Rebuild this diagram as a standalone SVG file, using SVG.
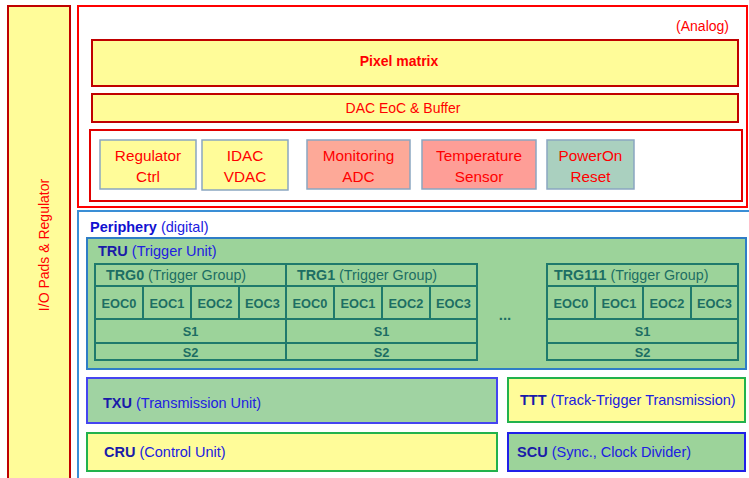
<svg xmlns="http://www.w3.org/2000/svg" width="749" height="478" viewBox="0 0 749 478">
<style>
text{font-family:"Liberation Sans","Noto Sans",Arial,sans-serif;}
.red{fill:#FF0000;font-size:14px;}
.sb{font-size:15.3px;}
.yel{fill:#FFFC99;}
.dred{stroke:#C00000;stroke-width:2;}
.sm{stroke:#8AA6C1;stroke-width:1.5;}
.c{text-anchor:middle;}
.teal{fill:#1D6E63;font-size:14.3px;}
.tealb{fill:#1D6E63;font-size:12.8px;font-weight:bold;}
.trg{fill:none;stroke:#1F7A6C;stroke-width:2;}
.blue{fill:#2020E0;font-size:14.5px;}
</style>
<rect width="749" height="478" fill="#FFFFFF"/>
<g id="io-pads">
<rect x="8" y="6" width="62" height="480" class="yel dred"/>
<text class="red c" transform="translate(49,245) rotate(-90)">I/O Pads &amp; Regulator</text>
</g>
<g id="analog">
<rect x="78" y="6" width="669" height="201" fill="#FFFFFF" stroke="#FF0000" stroke-width="2"/>
<text class="red" x="729" y="31" text-anchor="end" font-size="14.8">(Analog)</text>
</g>
<g id="pixel-matrix">
<rect x="92" y="40" width="646" height="46" class="yel dred"/>
<text class="red c" x="399" y="66" font-weight="bold">Pixel matrix</text>
</g>
<g id="dac-eoc">
<rect x="92" y="94" width="646" height="28" class="yel dred"/>
<text class="red c" x="403" y="113">DAC EoC &amp; Buffer</text>
</g>
<g id="analog-blocks">
<rect x="90" y="130" width="652" height="71" fill="#FFFFFF" stroke="#E00000" stroke-width="2"/>
</g>
<g id="regulator-ctrl">
<rect x="100" y="140" width="96" height="49" class="yel sm"/>
<text class="red c sb" x="148" y="161">Regulator</text>
<text class="red c sb" x="148" y="182">Ctrl</text>
</g>
<g id="idac-vdac">
<rect x="202" y="140" width="86" height="50" class="yel sm"/>
<text class="red c sb" x="245" y="161">IDAC</text>
<text class="red c sb" x="245" y="182">VDAC</text>
</g>
<g id="monitoring-adc">
<rect x="307" y="140" width="103" height="49" fill="#FDA998" class="sm"/>
<text class="red c sb" x="358.5" y="161">Monitoring</text>
<text class="red c sb" x="358.5" y="182">ADC</text>
</g>
<g id="temperature-sensor">
<rect x="422" y="140" width="114" height="49" fill="#FE9E97" class="sm"/>
<text class="red c sb" x="479" y="161">Temperature</text>
<text class="red c sb" x="479" y="182">Sensor</text>
</g>
<g id="poweron-reset">
<rect x="547" y="140" width="87" height="49" fill="#AAD0BF" class="sm"/>
<text class="red c sb" x="590.5" y="161">PowerOn</text>
<text class="red c sb" x="590.5" y="182">Reset</text>
</g>
<g id="periphery">
<rect x="78" y="211" width="674" height="275" fill="#FFFFFF" stroke="#3A8ED6" stroke-width="2"/>
<text class="blue" x="90" y="232" fill="#0000FF"><tspan font-weight="bold" fill="#1010D0">Periphery</tspan> (digital)</text>
</g>
<g id="tru">
<rect x="87" y="238" width="659" height="131" fill="#9CD39A" stroke="#2E7DC6" stroke-width="2"/>
<text class="blue" x="98" y="256"><tspan font-weight="bold" fill="#1A1AA8">TRU</tspan> (Trigger Unit)</text>
<text x="505" y="320" class="c" fill="#1D6E63" font-size="15" font-weight="bold">...</text>
</g>
<g id="trg0">
<rect x="95" y="264" width="191" height="96" class="trg"/>
<path d="M95 286H286M95 319H286M95 343H286M143 286V319M191 286V319M239 286V319" class="trg"/>
<text class="teal" x="106" y="280"><tspan font-weight="bold">TRG0</tspan> (Trigger Group)</text>
<text class="tealb c" x="119" y="308">EOC0</text>
<text class="tealb c" x="167" y="308">EOC1</text>
<text class="tealb c" x="215" y="308">EOC2</text>
<text class="tealb c" x="262.5" y="308">EOC3</text>
<text class="tealb c" x="190.5" y="336">S1</text>
<text class="tealb c" x="190.5" y="357">S2</text>
</g>
<g id="trg1">
<rect x="286" y="264" width="191" height="96" class="trg"/>
<path d="M286 286H477M286 319H477M286 343H477M334 286V319M382 286V319M430 286V319" class="trg"/>
<text class="teal" x="297" y="280"><tspan font-weight="bold">TRG1</tspan> (Trigger Group)</text>
<text class="tealb c" x="310" y="308">EOC0</text>
<text class="tealb c" x="358" y="308">EOC1</text>
<text class="tealb c" x="406" y="308">EOC2</text>
<text class="tealb c" x="453.5" y="308">EOC3</text>
<text class="tealb c" x="381.5" y="336">S1</text>
<text class="tealb c" x="381.5" y="357">S2</text>
</g>
<g id="trg111">
<rect x="547" y="264" width="191" height="96" class="trg"/>
<path d="M547 286H738M547 319H738M547 343H738M595 286V319M643 286V319M691 286V319" class="trg"/>
<text class="teal" x="554" y="280"><tspan font-weight="bold">TRG111</tspan> (Trigger Group)</text>
<text class="tealb c" x="571" y="308">EOC0</text>
<text class="tealb c" x="619" y="308">EOC1</text>
<text class="tealb c" x="667" y="308">EOC2</text>
<text class="tealb c" x="714.5" y="308">EOC3</text>
<text class="tealb c" x="642.5" y="336">S1</text>
<text class="tealb c" x="642.5" y="357">S2</text>
</g>
<g id="txu">
<rect x="87" y="378" width="410" height="45" fill="#A0D3A2" stroke="#4545F0" stroke-width="2"/>
<text class="blue" x="103" y="408"><tspan font-weight="bold" fill="#1A1AA8">TXU</tspan> (Transmission Unit)</text>
</g>
<g id="ttt">
<rect x="508" y="378" width="237" height="44" class="yel" stroke="#22B24C" stroke-width="2"/>
<text class="blue" x="520" y="405" font-size="14.3"><tspan font-weight="bold" fill="#1A1AA8">TTT</tspan> (Track-Trigger Transmission)</text>
</g>
<g id="cru">
<rect x="87" y="433" width="410" height="38" class="yel" stroke="#22B24C" stroke-width="2"/>
<text class="blue" x="104" y="457"><tspan font-weight="bold" fill="#1A1AA8">CRU</tspan> (Control Unit)</text>
</g>
<g id="scu">
<rect x="508" y="433" width="237" height="38" fill="#9CD39A" stroke="#2020E8" stroke-width="2"/>
<text class="blue" x="517" y="457"><tspan font-weight="bold" fill="#1A1AA8">SCU</tspan> (Sync., Clock Divider)</text>
</g>
<g id="connectors"></g>
</svg>
